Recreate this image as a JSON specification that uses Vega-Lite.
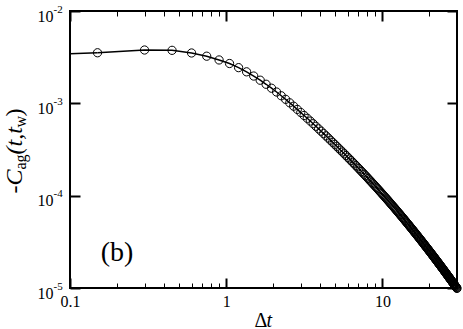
{
"$schema": "https://vega.github.io/schema/vega-lite/v6.json",
"autosize": "none",
"width": 387,
"height": 277,
"padding": {"left": 70, "top": 11, "right": 6, "bottom": 41},
"background": "white",
"config": {
  "font": "'Liberation Serif', 'Times New Roman', serif",
  "view": {"stroke": "black", "strokeWidth": 2},
  "axis": {"grid": false, "domain": false, "tickColor": "black", "labelColor": "black", "titleColor": "black", "labelFont": "'Liberation Serif', 'Times New Roman', serif", "titleFont": "'Liberation Serif', 'Times New Roman', serif", "labelFontSize": 16, "titleFontSize": 24, "titleFontWeight": "normal", "labelOverlap": false, "labelFlush": false}
},
"datasets": {
  "head": [{"dt":0.1,"C":3.44e-3},{"dt":0.15,"C":3.53e-3}],
  "lab": [{"dt":0.2,"C":2.37e-5,"txt":"(b)"}],
  "pts": [
{"dt":0.15,"C":3.53e-3},{"dt":0.3,"C":3.78e-3},{"dt":0.45,"C":3.75e-3},{"dt":0.6,"C":3.51e-3},{"dt":0.75,"C":3.24e-3},{"dt":0.9,"C":2.95e-3},{"dt":1.05,"C":2.70e-3},{"dt":1.2,"C":2.435e-3},{"dt":1.35,"C":2.194e-3},{"dt":1.5,"C":1.975e-3},
{"dt":1.65,"C":1.78e-3},{"dt":1.8,"C":1.609e-3},{"dt":1.95,"C":1.458e-3},{"dt":2.1,"C":1.326e-3},{"dt":2.25,"C":1.208e-3},{"dt":2.4,"C":1.105e-3},{"dt":2.55,"C":1.013e-3},{"dt":2.7,"C":9.314e-4},{"dt":2.85,"C":8.598e-4},{"dt":3.0,"C":7.962e-4},
{"dt":3.15,"C":7.391e-4},{"dt":3.3,"C":6.883e-4},{"dt":3.45,"C":6.43e-4},{"dt":3.6,"C":6.017e-4},{"dt":3.75,"C":5.641e-4},{"dt":3.9,"C":5.299e-4},{"dt":4.05,"C":4.989e-4},{"dt":4.2,"C":4.705e-4},{"dt":4.35,"C":4.446e-4},{"dt":4.5,"C":4.207e-4},
{"dt":4.65,"C":3.986e-4},{"dt":4.8,"C":3.785e-4},{"dt":4.95,"C":3.597e-4},{"dt":5.1,"C":3.422e-4},{"dt":5.25,"C":3.26e-4},{"dt":5.4,"C":3.11e-4},{"dt":5.55,"C":2.971e-4},{"dt":5.7,"C":2.84e-4},{"dt":5.85,"C":2.717e-4},{"dt":6.0,"C":2.602e-4},
{"dt":6.15,"C":2.495e-4},{"dt":6.3,"C":2.394e-4},{"dt":6.45,"C":2.298e-4},{"dt":6.6,"C":2.209e-4},{"dt":6.75,"C":2.125e-4},{"dt":6.9,"C":2.044e-4},{"dt":7.05,"C":1.969e-4},{"dt":7.2,"C":1.897e-4},{"dt":7.35,"C":1.828e-4},{"dt":7.5,"C":1.763e-4},
{"dt":7.65,"C":1.702e-4},{"dt":7.8,"C":1.644e-4},{"dt":7.95,"C":1.588e-4},{"dt":8.1,"C":1.535e-4},{"dt":8.25,"C":1.484e-4},{"dt":8.4,"C":1.436e-4},{"dt":8.55,"C":1.39e-4},{"dt":8.7,"C":1.347e-4},{"dt":8.85,"C":1.305e-4},{"dt":9.0,"C":1.264e-4},
{"dt":9.15,"C":1.227e-4},{"dt":9.3,"C":1.19e-4},{"dt":9.45,"C":1.155e-4},{"dt":9.6,"C":1.121e-4},{"dt":9.75,"C":1.088e-4},{"dt":9.9,"C":1.058e-4},{"dt":10.05,"C":1.027e-4},{"dt":10.2,"C":9.991e-5},{"dt":10.35,"C":9.718e-5},{"dt":10.5,"C":9.451e-5},
{"dt":10.65,"C":9.196e-5},{"dt":10.8,"C":8.954e-5},{"dt":10.95,"C":8.718e-5},{"dt":11.1,"C":8.49e-5},{"dt":11.25,"C":8.268e-5},{"dt":11.4,"C":8.059e-5},{"dt":11.55,"C":7.854e-5},{"dt":11.7,"C":7.657e-5},{"dt":11.85,"C":7.469e-5},{"dt":12.0,"C":7.284e-5},
{"dt":12.15,"C":7.107e-5},{"dt":12.3,"C":6.936e-5},{"dt":12.45,"C":6.77e-5},{"dt":12.6,"C":6.61e-5},{"dt":12.75,"C":6.457e-5},{"dt":12.9,"C":6.306e-5},{"dt":13.05,"C":6.162e-5},{"dt":13.2,"C":6.021e-5},{"dt":13.35,"C":5.885e-5},{"dt":13.5,"C":5.754e-5},
{"dt":13.65,"C":5.627e-5},{"dt":13.8,"C":5.501e-5},{"dt":13.95,"C":5.381e-5},{"dt":14.1,"C":5.266e-5},{"dt":14.25,"C":5.152e-5},{"dt":14.4,"C":5.041e-5},{"dt":14.55,"C":4.934e-5},{"dt":14.7,"C":4.832e-5},{"dt":14.85,"C":4.732e-5},{"dt":15.0,"C":4.634e-5},
{"dt":15.15,"C":4.539e-5},{"dt":15.3,"C":4.446e-5},{"dt":15.45,"C":4.357e-5},{"dt":15.6,"C":4.271e-5},{"dt":15.75,"C":4.185e-5},{"dt":15.9,"C":4.103e-5},{"dt":16.05,"C":4.021e-5},{"dt":16.2,"C":3.945e-5},{"dt":16.35,"C":3.869e-5},{"dt":16.5,"C":3.794e-5},
{"dt":16.65,"C":3.722e-5},{"dt":16.8,"C":3.652e-5},{"dt":16.95,"C":3.583e-5},{"dt":17.1,"C":3.517e-5},{"dt":17.25,"C":3.451e-5},{"dt":17.4,"C":3.388e-5},{"dt":17.55,"C":3.327e-5},{"dt":17.7,"C":3.266e-5},{"dt":17.85,"C":3.208e-5},{"dt":18.0,"C":3.15e-5},
{"dt":18.15,"C":3.094e-5},{"dt":18.3,"C":3.039e-5},{"dt":18.45,"C":2.986e-5},{"dt":18.6,"C":2.934e-5},{"dt":18.75,"C":2.884e-5},{"dt":18.9,"C":2.834e-5},{"dt":19.05,"C":2.786e-5},{"dt":19.2,"C":2.739e-5},{"dt":19.35,"C":2.693e-5},{"dt":19.5,"C":2.648e-5},
{"dt":19.65,"C":2.603e-5},{"dt":19.8,"C":2.56e-5},{"dt":19.95,"C":2.518e-5},{"dt":20.1,"C":2.477e-5},{"dt":20.25,"C":2.437e-5},{"dt":20.4,"C":2.398e-5},{"dt":20.55,"C":2.359e-5},{"dt":20.7,"C":2.321e-5},{"dt":20.85,"C":2.284e-5},{"dt":21.0,"C":2.248e-5},
{"dt":21.15,"C":2.213e-5},{"dt":21.3,"C":2.178e-5},{"dt":21.45,"C":2.145e-5},{"dt":21.6,"C":2.111e-5},{"dt":21.75,"C":2.079e-5},{"dt":21.9,"C":2.047e-5},{"dt":22.05,"C":2.017e-5},{"dt":22.2,"C":1.986e-5},{"dt":22.35,"C":1.956e-5},{"dt":22.5,"C":1.927e-5},
{"dt":22.65,"C":1.898e-5},{"dt":22.8,"C":1.87e-5},{"dt":22.95,"C":1.842e-5},{"dt":23.1,"C":1.816e-5},{"dt":23.25,"C":1.789e-5},{"dt":23.4,"C":1.764e-5},{"dt":23.55,"C":1.738e-5},{"dt":23.7,"C":1.713e-5},{"dt":23.85,"C":1.689e-5},{"dt":24.0,"C":1.665e-5},
{"dt":24.15,"C":1.641e-5},{"dt":24.3,"C":1.618e-5},{"dt":24.45,"C":1.595e-5},{"dt":24.6,"C":1.574e-5},{"dt":24.75,"C":1.551e-5},{"dt":24.9,"C":1.53e-5},{"dt":25.05,"C":1.51e-5},{"dt":25.2,"C":1.489e-5},{"dt":25.35,"C":1.468e-5},{"dt":25.5,"C":1.449e-5},
{"dt":25.65,"C":1.429e-5},{"dt":25.8,"C":1.41e-5},{"dt":25.95,"C":1.392e-5},{"dt":26.1,"C":1.373e-5},{"dt":26.25,"C":1.355e-5},{"dt":26.4,"C":1.337e-5},{"dt":26.55,"C":1.319e-5},{"dt":26.7,"C":1.302e-5},{"dt":26.85,"C":1.285e-5},{"dt":27.0,"C":1.269e-5},
{"dt":27.15,"C":1.252e-5},{"dt":27.3,"C":1.236e-5},{"dt":27.45,"C":1.22e-5},{"dt":27.6,"C":1.205e-5},{"dt":27.75,"C":1.19e-5},{"dt":27.9,"C":1.175e-5},{"dt":28.05,"C":1.161e-5},{"dt":28.2,"C":1.146e-5},{"dt":28.35,"C":1.131e-5},{"dt":28.5,"C":1.117e-5},
{"dt":28.65,"C":1.104e-5},{"dt":28.8,"C":1.09e-5},{"dt":28.95,"C":1.077e-5},{"dt":29.1,"C":1.064e-5},{"dt":29.25,"C":1.051e-5},{"dt":29.4,"C":1.038e-5},{"dt":29.55,"C":1.026e-5},{"dt":29.7,"C":1.014e-5},{"dt":29.85,"C":1.002e-5},{"dt":30.0,"C":9.9e-6}
  ]
},
"resolve": {"scale": {"x": "shared", "y": "shared"}, "axis": {"x": "independent", "y": "independent"}},
"layer": [
  {
    "data": {"name": "head"},
    "mark": {"type": "line", "color": "black", "strokeWidth": 1.5},
    "encoding": {
      "x": {"field": "dt", "type": "quantitative", "scale": {"type": "log", "domain": [0.1, 30], "nice": false},
        "axis": {"orient": "bottom", "values": [0.1, 1, 10], "format": "~g", "tickSize": -10, "tickWidth": 2, "labelPadding": 15, "labelBaseline": "top",
          "title": "Δ", "titleX": 184, "titleY": 38, "titleAlign": "left", "titleBaseline": "alphabetic", "titleAngle": 0, "titleFontSize": 20}},
      "y": {"field": "C", "type": "quantitative", "scale": {"type": "log", "domain": [1e-5, 1e-2], "nice": false},
        "axis": {"orient": "left", "values": [1e-5, 1e-4, 1e-3, 1e-2], "tickSize": -10, "tickWidth": 2, "labelExpr": "'10'", "labelAlign": "right", "labelBaseline": "middle", "labelPadding": 27, "labelOffset": 5,
          "title": "-C", "titleFontStyle": "italic", "titleAngle": -90, "titleX": -49, "titleY": 182, "titleAlign": "left", "titleBaseline": "alphabetic", "titleFontSize": 24}}
    }
  },
  {
    "data": {"name": "pts"},
    "mark": {"type": "line", "color": "black", "strokeWidth": 1.5},
    "encoding": {
      "x": {"field": "dt", "type": "quantitative",
        "axis": {"orient": "bottom", "values": [0.2,0.3,0.4,0.5,0.6,0.7,0.8,0.9,2,3,4,5,6,7,8,9,20], "tickSize": -5, "tickWidth": 1, "labels": false,
          "title": "t", "titleFontStyle": "italic", "titleX": 196, "titleY": 38, "titleAlign": "left", "titleBaseline": "alphabetic", "titleAngle": 0, "titleFontSize": 20}},
      "y": {"field": "C", "type": "quantitative",
        "axis": {"orient": "left", "values": [1e-5, 1e-4, 1e-3, 1e-2], "ticks": false, "labelExpr": "'-' + round(-log(datum.value)/LN10)", "labelFontSize": 11, "labelAlign": "left", "labelBaseline": "middle", "labelPadding": 17, "labelOffset": -2,
          "title": "ag", "titleAngle": -90, "titleX": -45, "titleY": 158, "titleAlign": "left", "titleBaseline": "alphabetic", "titleFontSize": 16}}
    }
  },
  {
    "data": {"name": "pts"},
    "mark": {"type": "point", "shape": "circle", "filled": false, "stroke": "black", "strokeWidth": 1, "size": 68, "opacity": 1},
    "encoding": {
      "x": {"field": "dt", "type": "quantitative",
        "axis": {"orient": "top", "values": [0.1, 1, 10], "tickSize": -10, "tickWidth": 2, "labels": false,
          "title": "w", "titleAngle": -90, "titleX": -45, "titleY": 116, "titleAlign": "left", "titleBaseline": "alphabetic", "titleFontSize": 16}},
      "y": {"field": "C", "type": "quantitative",
        "axis": {"orient": "right", "values": [1e-5, 1e-4, 1e-3, 1e-2], "tickSize": -10, "tickWidth": 2, "labels": false,
          "title": "(t,t", "titleFontStyle": "italic", "titleAngle": -90, "titleX": -436, "titleY": 143, "titleAlign": "left", "titleBaseline": "alphabetic", "titleFontSize": 24}}
    }
  },
  {
    "data": {"name": "lab"},
    "mark": {"type": "text", "font": "'Liberation Serif', 'Times New Roman', serif", "fontSize": 28, "color": "black", "align": "center", "baseline": "middle"},
    "encoding": {
      "x": {"field": "dt", "type": "quantitative",
        "axis": {"orient": "top", "values": [0.2,0.3,0.4,0.5,0.6,0.7,0.8,0.9,2,3,4,5,6,7,8,9,20], "tickSize": -5, "tickWidth": 1, "labels": false,
          "title": ")", "titleAngle": -90, "titleX": -49, "titleY": 105, "titleAlign": "left", "titleBaseline": "alphabetic", "titleFontSize": 24}},
      "y": {"field": "C", "type": "quantitative", "axis": null},
      "text": {"field": "txt"}
    }
  }
]
}
